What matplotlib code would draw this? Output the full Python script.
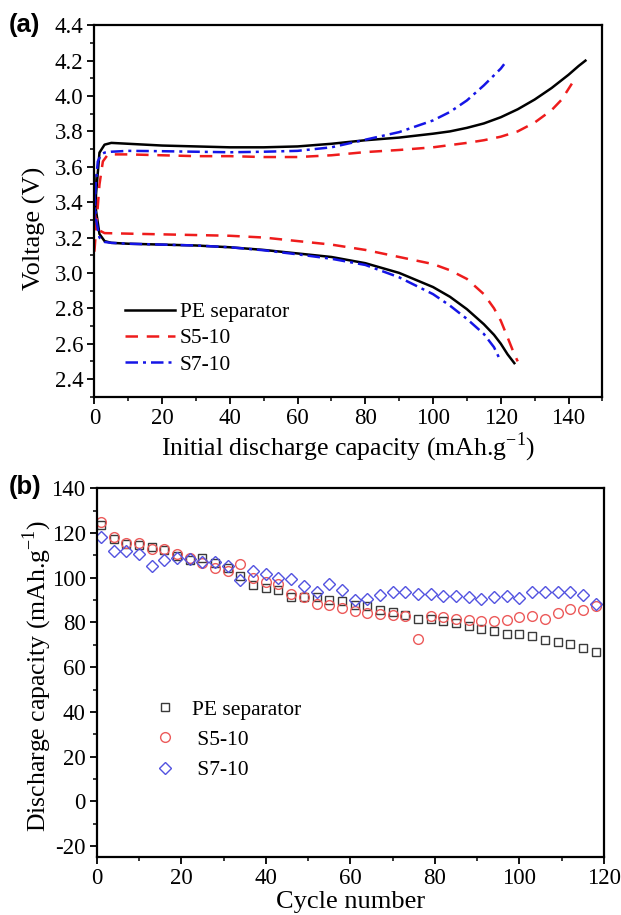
import numpy as np
import matplotlib as mpl
mpl.use("Agg")
import matplotlib.pyplot as plt
from matplotlib.ticker import MultipleLocator

plt.rcParams['font.family'] = 'Liberation Serif'
plt.rcParams['axes.unicode_minus'] = False
plt.rcParams['axes.linewidth'] = 1.6
plt.rcParams['xtick.major.width'] = 1.3
plt.rcParams['ytick.major.width'] = 1.3
plt.rcParams['xtick.minor.width'] = 1.1
plt.rcParams['ytick.minor.width'] = 1.1

# ---- panel (a): charge / discharge curves ----
pe_charge_x = [0, 0.5, 1.5, 3, 5, 10, 20, 30, 40, 50, 60, 70, 80, 90, 100, 105, 110,
               115, 120, 125, 130, 135, 140, 143, 145]
pe_charge_v = [3.25, 3.45, 3.68, 3.725, 3.735, 3.73, 3.72, 3.715, 3.71, 3.71, 3.715, 3.73,
               3.75, 3.765, 3.787, 3.80, 3.82, 3.845, 3.88, 3.925, 3.98, 4.045, 4.12,
               4.17, 4.2]
pe_dis_x = [0, 0.5, 1.5, 3, 5, 10, 20, 30, 40, 50, 60, 70, 80, 90, 100, 105, 110, 115,
            118, 120, 122, 124]
pe_dis_v = [3.55, 3.35, 3.22, 3.18, 3.17, 3.165, 3.16, 3.155, 3.145, 3.13, 3.11, 3.09,
            3.055, 3.0, 2.92, 2.865, 2.795, 2.71, 2.65, 2.6, 2.54, 2.49]

s5_charge_x = [0, 0.7, 1.5, 2.5, 4, 10, 20, 30, 40, 50, 60, 70, 80, 90, 100, 110, 115,
               120, 125, 130, 135, 138, 141]
s5_charge_v = [3.12, 3.3, 3.5, 3.63, 3.67, 3.67, 3.665, 3.66, 3.66, 3.655, 3.655, 3.665,
               3.683, 3.695, 3.71, 3.735, 3.75, 3.77, 3.80, 3.85, 3.92, 3.98, 4.07]
s5_dis_x = [0, 0.7, 1.5, 3, 10, 20, 30, 40, 50, 60, 70, 80, 90, 100, 105, 110, 115,
            118, 120, 122, 124, 125]
s5_dis_v = [3.35, 3.27, 3.24, 3.225, 3.222, 3.218, 3.214, 3.21, 3.2, 3.18, 3.16, 3.13,
            3.09, 3.05, 3.015, 2.966, 2.88, 2.8, 2.73, 2.636, 2.54, 2.50]

s7_charge_x = [0, 0.4, 1, 2, 3, 5, 10, 20, 30, 40, 50, 60, 70, 80, 90, 100, 105, 110,
               115, 120, 121]
s7_charge_v = [3.3, 3.5, 3.63, 3.67, 3.68, 3.685, 3.69, 3.688, 3.685, 3.682, 3.685, 3.69,
               3.71, 3.753, 3.796, 3.862, 3.91, 3.975, 4.06, 4.155, 4.18]
s7_dis_x = [0, 0.5, 1.5, 3, 5, 10, 20, 30, 40, 50, 60, 70, 80, 90, 100, 105, 110, 115,
            118, 120]
s7_dis_v = [3.45, 3.3, 3.2, 3.175, 3.17, 3.165, 3.16, 3.155, 3.145, 3.128, 3.105, 3.08,
            3.045, 2.975, 2.88, 2.815, 2.74, 2.655, 2.58, 2.50]

# ---- panel (b): cycling ----
cycles = np.arange(1, 119, 3)
pe_cap = [123.6, 117.4, 115.0, 114.7, 113.7, 112.2, 109.8, 107.7, 108.7, 106.5,
          104.3, 100.6, 96.8, 95.6, 94.3, 91.2, 91.2, 91.3, 90.1, 89.4,
          87.6, 87.2, 85.7, 84.5, 83.4, 81.7, 81.5, 80.5, 79.7, 78.2,
          77.2, 76.0, 74.8, 74.8, 73.8, 72.3, 71.4, 70.3, 68.6, 66.8]
s5_cap = [125.1, 118.4, 115.4, 115.4, 112.8, 112.8, 110.5, 108.7, 106.5, 104.3,
          103.1, 106.1, 99.8, 98.3, 97.3, 92.7, 91.2, 88.4, 87.9, 86.4,
          85.2, 84.2, 83.9, 83.1, 82.7, 72.7, 82.7, 82.3, 81.5, 81.2,
          80.5, 80.5, 81.1, 82.4, 82.7, 81.5, 84.2, 86.0, 85.7, 87.2]
s7_cap = [118.4, 112.0, 112.0, 110.7, 105.3, 108.0, 109.0, 108.3, 107.0, 106.8,
          105.3, 99.1, 103.2, 101.7, 99.8, 99.4, 96.4, 93.6, 97.3, 94.6,
          90.1, 90.4, 92.4, 93.6, 93.4, 92.8, 92.8, 91.9, 91.9, 91.3,
          90.6, 91.3, 91.6, 90.9, 93.4, 93.6, 93.6, 93.6, 92.2, 88.4]

fig = plt.figure(figsize=(6.21, 9.15), dpi=100)
ax1 = fig.add_axes([0.152, 0.5664, 0.818, 0.406])
ax2 = fig.add_axes([0.1557, 0.0631, 0.817, 0.4033])

lw = 1.8
ax1.plot(pe_charge_x, pe_charge_v, color='k', lw=lw, label='PE separator')
ax1.plot(pe_dis_x, pe_dis_v, color='k', lw=lw)
ax1.plot(s5_charge_x, s5_charge_v, color='#ee1c1c', lw=lw, dashes=(5, 3.5),
         label='S5-10')
ax1.plot(s5_dis_x, s5_dis_v, color='#ee1c1c', lw=lw, dashes=(5, 3.5))
ax1.plot(s7_charge_x, s7_charge_v, color='#1515e6', lw=lw,
         dashes=(5, 2, 1.2, 2), label='S7-10')
ax1.plot(s7_dis_x, s7_dis_v, color='#1515e6', lw=lw, dashes=(5, 2, 1.2, 2))

ax1.set_xlim(0, 150)
ax1.set_ylim(2.3, 4.4)
ax1.xaxis.set_major_locator(MultipleLocator(20))
ax1.xaxis.set_minor_locator(MultipleLocator(10))
ax1.yaxis.set_minor_locator(MultipleLocator(0.1))
yt = np.arange(2.4, 4.41, 0.2)
ax1.set_yticks(yt)
ax1.set_yticklabels([f"{v:.1f}" for v in yt])
ax1.tick_params(labelsize=16.5, length=5, pad=3)
ax1.tick_params(which='minor', length=3)
ax1.set_xlabel("Initial discharge capacity (mAh.g$^{\\mathregular{-1}}$)",
               fontsize=18.5, labelpad=1)
ax1.set_ylabel("Voltage (V)", fontsize=19)
ax1.yaxis.set_label_coords(-0.095, 0.4525)
ax1.legend(loc='lower left', bbox_to_anchor=(0.0435, 0.0366), frameon=False,
           fontsize=15.5, handlelength=2.32, handletextpad=0.23, labelspacing=0.28,
           borderaxespad=0)
fig.text(0.014, 0.973, "(a)", fontsize=18.5, fontweight='bold',
         family='Liberation Sans', va='center')

ax2.plot(cycles, pe_cap, ls='none', marker='s', ms=6, mfc='none',
         mec='#3a3a3a', mew=1.0, label='PE separator')
ax2.plot(cycles, s5_cap, ls='none', marker='o', ms=7, mfc='none',
         mec='#ec5a5a', mew=1.0, label=' S5-10')
ax2.plot(cycles, s7_cap, ls='none', marker='D', ms=6.5, mfc='none',
         mec='#5252e0', mew=1.0, label=' S7-10')

ax2.set_xlim(0, 120)
ax2.set_ylim(-25, 140)
ax2.xaxis.set_major_locator(MultipleLocator(20))
ax2.xaxis.set_minor_locator(MultipleLocator(10))
ax2.yaxis.set_major_locator(MultipleLocator(20))
ax2.yaxis.set_minor_locator(MultipleLocator(10))
ax2.tick_params(labelsize=16.5, length=5, pad=3)
ax2.tick_params(which='minor', length=3)
ax2.set_xlabel("Cycle number", fontsize=19, labelpad=1)
ax2.set_ylabel("Discharge capacity (mAh.g$^{\\mathregular{-1}}$)", fontsize=18.5)
ax2.yaxis.set_label_coords(-0.085, 0.49)
ax2.legend(loc='lower left', bbox_to_anchor=(0.086, 0.185), frameon=False,
           fontsize=15.5, handlelength=1.5, handletextpad=0.5, labelspacing=0.48,
           borderaxespad=0)
fig.text(0.014, 0.468, "(b)", fontsize=18.5, fontweight='bold',
         family='Liberation Sans', va='center')

plt.savefig("out.png", dpi=100)
